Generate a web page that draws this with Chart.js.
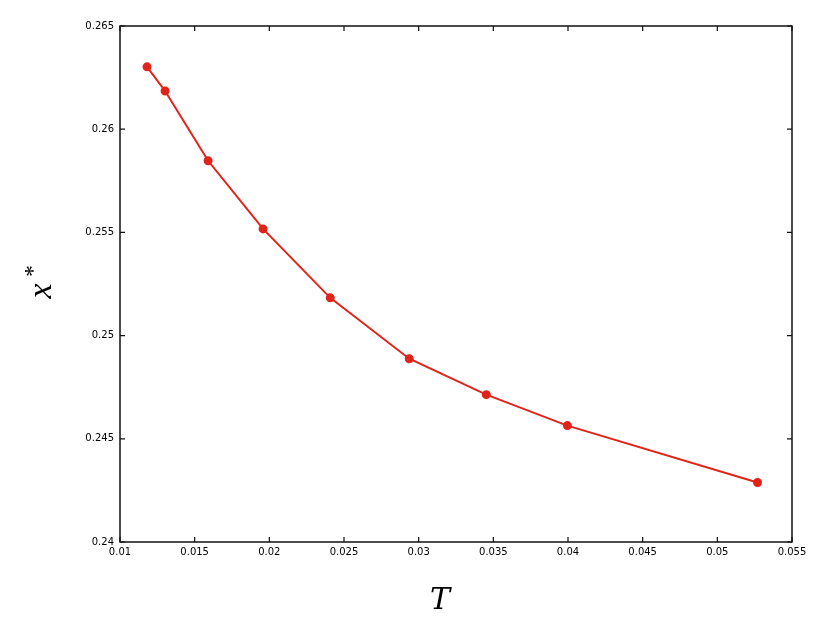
<!DOCTYPE html>
<html>
<head>
<meta charset="utf-8">
<script src="https://cdn.jsdelivr.net/npm/chart.js@4/dist/chart.umd.min.js"></script>
<style>
  html, body { margin: 0; padding: 0; background: #fff; }
  #wrap { width: 831px; height: 628px; }
</style>
</head>
<body>
<div id="wrap"><canvas id="chart" width="831" height="628"></canvas></div>
<script>
// data
const tValues = [0.01181, 0.01302, 0.0159, 0.01958, 0.02408, 0.02937, 0.03453, 0.03996, 0.05269];
const xStar = [0.26302, 0.26185, 0.25847, 0.25517, 0.25183, 0.24888, 0.24714, 0.24564, 0.24288];
const xTicks = [0.01, 0.015, 0.02, 0.025, 0.03, 0.035, 0.04, 0.045, 0.05, 0.055];
const yTicks = [0.24, 0.245, 0.25, 0.255, 0.26, 0.265];

const lineColor = "#e2231a";

const fmt = (v) => String(parseFloat(v.toFixed(3)));

// box + inward ticks on all four sides, plus the axis titles
const framePlugin = {
  id: "frame",
  afterDraw(chart) {
    const ctx = chart.ctx;
    const a = chart.chartArea;
    const xs = chart.scales.x;
    const ys = chart.scales.y;
    ctx.save();
    ctx.strokeStyle = "#111";
    ctx.lineWidth = 1.5;
    ctx.strokeRect(a.left, a.top, a.right - a.left, a.bottom - a.top);
    ctx.lineWidth = 1.2;
    ctx.beginPath();
    xTicks.forEach(function (v) {
      const px = xs.getPixelForValue(v);
      ctx.moveTo(px, a.bottom); ctx.lineTo(px, a.bottom - 5);
      ctx.moveTo(px, a.top); ctx.lineTo(px, a.top + 5);
    });
    yTicks.forEach(function (v) {
      const py = ys.getPixelForValue(v);
      ctx.moveTo(a.left, py); ctx.lineTo(a.left + 5, py);
      ctx.moveTo(a.right, py); ctx.lineTo(a.right - 5, py);
    });
    ctx.stroke();

    // axis titles
    ctx.fillStyle = "#000";
    ctx.textAlign = "center";
    ctx.textBaseline = "middle";
    ctx.font = "italic 30px 'DejaVu Serif', 'Liberation Serif', serif";
    ctx.fillText("T", 440, 601);

    ctx.translate(42, 291);
    ctx.rotate(-Math.PI / 2);
    ctx.font = "italic 34px 'Liberation Serif', 'DejaVu Serif', serif";
    ctx.fillText("x", 0, 0);
    ctx.font = "24px 'Liberation Serif', 'DejaVu Serif', serif";
    ctx.fillText("*", 20, -8);
    ctx.restore();
  },
};

const ctx = document.getElementById("chart").getContext("2d");
new Chart(ctx, {
  type: "line",
  data: {
    datasets: [
      {
        label: "x*",
        data: tValues.map((t, i) => ({ x: t, y: xStar[i] })),
        borderColor: lineColor,
        backgroundColor: lineColor,
        pointBackgroundColor: lineColor,
        pointBorderColor: lineColor,
        pointRadius: 3.5,
        borderWidth: 2,
        tension: 0,
        fill: false,
      },
    ],
  },
  options: {
    responsive: false,
    animation: false,
    layout: { padding: { left: 0, top: 26, right: 39, bottom: 0 } },
    plugins: {
      legend: { display: false },
      tooltip: { enabled: false },
    },
    scales: {
      x: {
        type: "linear",
        min: 0.01,
        max: 0.055,
        afterBuildTicks: (s) => { s.ticks = xTicks.map((v) => ({ value: v })); },
        afterFit: (s) => { s.height = 86; },
        grid: { display: false, drawTicks: false },
        border: { display: false },
        ticks: {
          padding: 4,
          color: "#000",
          maxRotation: 0,
          autoSkip: false,
          font: { family: "'DejaVu Sans', sans-serif", size: 10 },
          callback: fmt,
        },
      },
      y: {
        type: "linear",
        min: 0.24,
        max: 0.265,
        afterBuildTicks: (s) => { s.ticks = yTicks.map((v) => ({ value: v })); },
        afterFit: (s) => { s.width = 120; },
        grid: { display: false, drawTicks: false },
        border: { display: false },
        ticks: {
          padding: 6,
          color: "#000",
          autoSkip: false,
          font: { family: "'DejaVu Sans', sans-serif", size: 10 },
          callback: fmt,
        },
      },
    },
  },
  plugins: [framePlugin],
});
</script>
</body>
</html>
